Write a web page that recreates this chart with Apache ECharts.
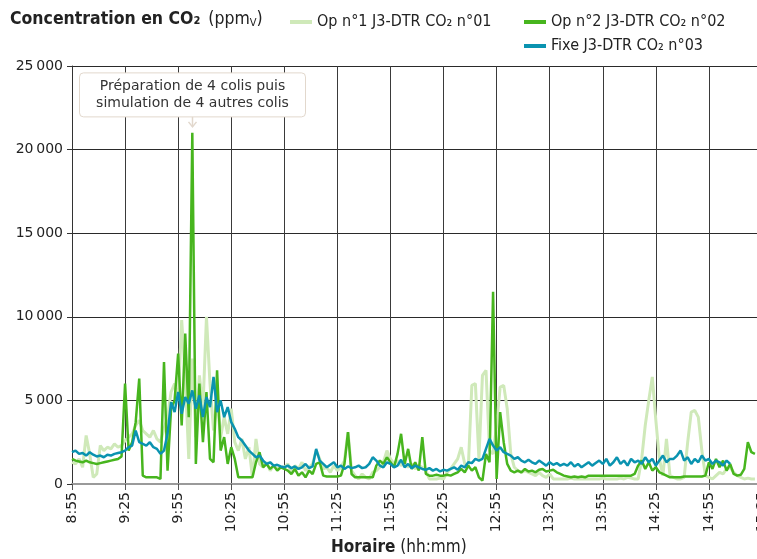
<!DOCTYPE html>
<html>
<head>
<meta charset="utf-8">
<script src="https://cdn.jsdelivr.net/npm/echarts@6/dist/echarts.min.js"></script>
<style>
html,body{margin:0;padding:0;background:#fff;}
#c{width:757px;height:559px;}
</style>
</head>
<body>
<div id="c"></div>
<script>
// minutes after 8:55, sampled every 2 minutes
const stepMin = 2;
const startHour = 8, startMinute = 55;
const yTicks = [0, 5000, 10000, 15000, 20000, 25000];
const seriesNames = ['Op n°1 J3-DTR CO₂ n°01', 'Op n°2 J3-DTR CO₂ n°02', 'Fixe J3-DTR CO₂ n°03'];

const op1 = [
1300,1200,1500,1000,2900,1800,400,600,2300,2000,2200,2100,2400,2200,2300,
2600,2800,3000,3500,3800,3200,3000,2800,3200,2700,2500,3300,4000,5500,6000,
5000,9800,6500,1500,7500,2800,6500,4500,10000,6000,3200,5000,2800,4000,3000,
4500,2500,2000,2700,1500,2200,400,2700,1200,1000,1300,800,1100,900,1000,
1000,1200,700,1100,900,1300,800,1000,1200,2000,1500,900,1000,700,1100,800,1000,1400,3100,800,
500,300,600,400,300,700,800,1000,1300,2000,1500,1200,1400,1100,1300,1000,1200,900,1100,1000,
800,300,300,300,350,300,700,900,1200,1500,2200,1200,
1000,5900,6000,1500,6500,6800,2000,1800,3500,5800,5900,4500,1800,1000,800,700,800,700,
600,500,700,500,400,600,300,300,300,300,300,350,300,300,300,300,300,300,300,300,350,300,300,300,300,350,300,400,350,300,
300,1500,3500,5000,6400,3800,1500,500,2700,500,
400,300,300,400,2500,4300,4400,4000,2000,500,
400,300,500,700,600,900,1000,700,500,400,300,350,300,300
];

const op2 = [
1500,1400,1350,1300,1400,1300,1250,1200,1250,1300,1350,1400,1450,1500,1650,
6000,2000,2500,3700,6300,500,400,400,400,400,300,7300,800,4500,
5000,7800,3500,9000,4000,21000,1200,6000,2500,5500,1500,1300,6800,2000,2800,1200,
2200,1500,400,400,400,400,400,1300,1900,1000,1200,900,1100,800,1000,
900,800,600,900,500,700,400,800,600,1200,
1300,500,450,450,450,450,500,1200,3100,600,
400,400,400,400,400,400,1100,1400,1200,1600,
1300,1000,1800,3000,1200,2100,900,1300,800,2800,
600,500,500,550,500,500,550,500,600,700,
900,700,1100,800,1000,400,200,1800,1300,11500,
300,4300,2500,1200,800,700,800,700,900,750,
800,700,850,900,750,800,850,700,600,500,
450,400,450,400,450,400,500,500,500,500,
500,500,500,500,500,500,500,500,500,600,
1100,1400,900,1300,800,1000,700,600,500,400,
400,400,400,450,450,450,450,450,450,500,
1300,900,1500,1000,1400,800,1200,600,500,550,
900,2500,1900,1800
];

const fixe = [
1900,2000,1800,1850,1700,1900,1750,1650,1700,1600,1750,1700,1800,1850,1900,
2000,2200,2300,3200,2500,
2400,2300,2500,2200,2100,
1800,2000,3000,4900,4300,
5500,4200,5200,4800,5600,4500,5300,4000,5200,4600,
6400,4300,5000,4000,4600,3700,3300,2800,2600,2300,
2000,1800,1600,1700,1400,1200,1300,1100,1150,1050,
1000,1100,950,1050,900,1000,1200,950,1050,2100,
1400,1200,1000,1150,1300,1000,1100,900,1050,950,
1000,1100,950,1000,1200,1600,1400,1100,1000,1300,
1200,1000,1100,1450,1000,1200,950,1100,1000,900,
850,950,800,900,750,850,800,900,1000,850,
1100,1000,1300,1250,1500,1400,1500,2100,2700,2300,
2000,2200,1900,1800,1700,1500,1600,1400,1300,1450,
1300,1200,1400,1250,1100,1300,1150,1250,1100,1200,
1100,1300,1050,1200,1000,1150,1300,1100,1250,1400,
1200,1500,1100,1300,1600,1200,1400,1100,1500,1300,
1400,1200,1600,1300,1500,1100,1400,1700,1300,1500,
1500,1700,2000,1400,1600,1200,1500,1300,1700,1400,
1500,1200,1400,1300,1100,1400,1200
];

const annotationLines = ['Préparation de 4 colis puis', 'simulation de 4 autres colis'];

function toPairs(arr){ return arr.map((v,i)=>[i*stepMin, v]); }
function fmtTime(m){
  const tot = startHour*60 + startMinute + m;
  const h = Math.floor(tot/60), mm = tot%60;
  return h + ':' + (mm<10?'0':'') + mm;
}
function fmtY(v){
  if (v === 0) return '0';
  return Math.floor(v/1000) + '\u2009' + '000';
}

const colors = ['#cfe9b9', '#47b51e', '#0a93b0'];
const condFont = '"DejaVu Sans Condensed",sans-serif';
const chart = echarts.init(document.getElementById('c'), null, {renderer:'canvas'});

const legendBase = {
  icon: 'rect', itemWidth: 22, itemHeight: 4, itemGap: 30, padding: 0,
  textStyle: {fontFamily: condFont, fontSize: 16, color: '#222'},
  selectedMode: false
};

chart.setOption({
  animation: false,
  backgroundColor: '#fff',
  color: colors,
  title: [{
    left: 10, top: 10, padding: 0,
    text: '{b|Concentration en CO₂}{r|(ppm}{s|V}{r2|)}',
    textStyle: {
      rich: {
        b: {fontFamily: condFont, fontWeight: 'bold', fontSize: 17.5, color: '#222'},
        r: {fontFamily: condFont, fontWeight: 'normal', fontSize: 17.5, color: '#222', padding: [0,0,0,8]},
        r2: {fontFamily: condFont, fontWeight: 'normal', fontSize: 17.5, color: '#222'},
        s: {fontFamily: condFont, fontWeight: 'normal', fontSize: 11, color: '#222', verticalAlign: 'bottom', padding: [8,0,0,0]}
      }
    }
  },{
    left: 331, top: 539, padding: 0,
    text: '{b|Horaire} {r|(hh:mm)}',
    textStyle: {
      rich: {
        b: {fontFamily: condFont, fontWeight: 'bold', fontSize: 17, color: '#222'},
        r: {fontFamily: condFont, fontWeight: 'normal', fontSize: 17, color: '#222'}
      }
    }
  }],
  legend: [
    Object.assign({}, legendBase, {left: 290, top: 14, data: [seriesNames[0]]}),
    Object.assign({}, legendBase, {left: 524, top: 14, data: [seriesNames[1]]}),
    Object.assign({}, legendBase, {left: 524, top: 38, data: [seriesNames[2]]})
  ],
  grid: {left: 72, top: 66, width: 690, height: 418, containLabel: false, outerBoundsMode: 'none'},
  xAxis: {
    type: 'value', min: 0, max: 390, interval: 30,
    axisLine: {show: true, onZero: false, lineStyle: {color: '#9a9a9a', width: 2}},
    axisTick: {show: true, length: 6, lineStyle: {color: '#555'}},
    splitLine: {show: true, lineStyle: {color: '#3a3a3a', width: 1}},
    axisLabel: {
      rotate: 90, margin: 8, fontFamily: 'DejaVu Sans', fontSize: 14, color: '#222',
      formatter: fmtTime, showMaxLabel: true, hideOverlap: false
    }
  },
  yAxis: {
    type: 'value', min: 0, max: 25000, interval: 5000,
    axisLine: {show: true, lineStyle: {color: '#333', width: 1}},
    axisTick: {show: true, length: 5, lineStyle: {color: '#333'}},
    splitLine: {show: true, lineStyle: {color: '#2a2a2a', width: 1}},
    axisLabel: {margin: 9, fontFamily: 'DejaVu Sans', fontSize: 14, color: '#222', formatter: fmtY}
  },
  series: [
    {name: seriesNames[0], type: 'line', data: toPairs(op1), showSymbol: false, symbol: 'none',
     lineStyle: {width: 3, color: colors[0]}, itemStyle: {color: colors[0]}, z: 2},
    {name: seriesNames[1], type: 'line', data: toPairs(op2), showSymbol: false, symbol: 'none',
     lineStyle: {width: 2.5, color: colors[1]}, itemStyle: {color: colors[1]}, z: 3},
    {name: seriesNames[2], type: 'line', data: toPairs(fixe), showSymbol: false, symbol: 'none',
     lineStyle: {width: 2.5, color: colors[2]}, itemStyle: {color: colors[2]}, z: 4}
  ]
});

// annotation anchored on the maximum of series 2
let pk = 0;
op2.forEach((v,i)=>{ if (v > op2[pk]) pk = i; });
const p = chart.convertToPixel({gridIndex: 0}, [pk*stepMin, op2[pk]]);
const boxW = 226, boxH = 44;
const boxBottom = p[1] - 16;
const cx = Math.round(p[0]) + 0.5;
chart.setOption({
  graphic: [
    {type: 'rect', shape: {x: cx - boxW/2, y: boxBottom - boxH, width: boxW, height: boxH, r: 4},
     style: {fill: '#fff', stroke: '#e2d8cd', lineWidth: 1}, z: 100},
    {type: 'text', x: cx, y: boxBottom - boxH/2, z: 101,
     style: {text: annotationLines.join('\n'), fontFamily: 'DejaVu Sans', fontSize: 14, fill: '#333',
             align: 'center', verticalAlign: 'middle', lineHeight: 17}},
    {type: 'polyline', shape: {points: [[cx, boxBottom], [cx, p[1] - 6]]},
     style: {stroke: '#e2d8cd', lineWidth: 1.5, fill: null}, z: 100},
    {type: 'polyline', shape: {points: [[cx - 4, p[1] - 11], [cx, p[1] - 6], [cx + 4, p[1] - 11]]},
     style: {stroke: '#e2d8cd', lineWidth: 1.5, fill: null}, z: 100}
  ]
});
</script>
</body>
</html>
